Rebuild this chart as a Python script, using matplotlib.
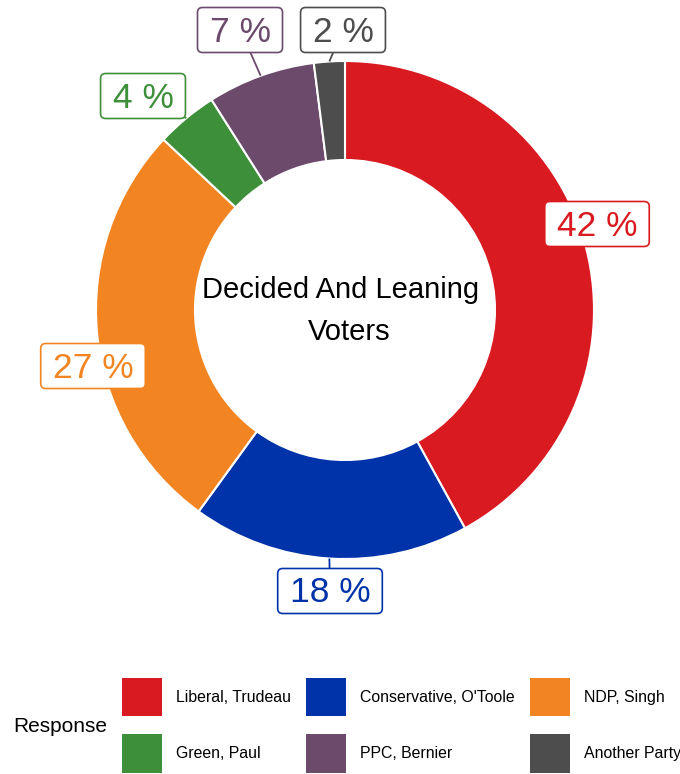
import matplotlib
matplotlib.use('Agg')
import matplotlib.pyplot as plt
from matplotlib.patches import FancyBboxPatch, Patch
import numpy as np

plt.rcParams['font.family'] = ['Liberation Sans', 'DejaVu Sans']

categories = ["Liberal, Trudeau", "Conservative, O'Toole", "NDP, Singh",
              "Green, Paul", "PPC, Bernier", "Another Party"]
values = [42, 18, 27, 4, 7, 2]
colors = ["#D91A21", "#0033AA", "#F28522", "#3D8F3A", "#6B4A6B", "#4D4D4D"]
center_lines = ["Decided And Leaning", "Voters"]
legend_title = "Response"

# layout (pixel coords, origin top-left)
W, H = 680, 774
label_pos = [(597, 223), (330, 590), (93, 365), (143, 95), (240, 29), (343, 29)]
show_line = [False, True, False, True, True, True]
center_line_pos = [(341, 298), (349, 340)]

fig = plt.figure(figsize=(6.8, 7.74), dpi=100)
ax = fig.add_axes([0, 0, 1, 1])

cx, cy = 345, H - 310
R, ring = 249, 99
wedges, _ = ax.pie(values, colors=colors, startangle=90, counterclock=False,
                   radius=R, center=(cx, cy),
                   wedgeprops=dict(width=ring, edgecolor='white', linewidth=1.5))
ax.set_xlim(0, W)
ax.set_ylim(0, H)
ax.set_aspect('equal')
ax.axis('off')

for s, (tx, ty) in zip(center_lines, center_line_pos):
    ax.text(tx, H - ty, s, ha='center', va='baseline', fontsize=21,
            color='black', zorder=6)

texts = []
for w, v, c, (lx, ly), sl in zip(wedges, values, colors, label_pos, show_line):
    th = np.deg2rad((w.theta1 + w.theta2) / 2)
    px, py = cx + R * np.cos(th), cy + R * np.sin(th)
    if sl:
        ax.plot([px, lx], [py, H - ly], color=c, lw=1.3, zorder=3,
                solid_capstyle='butt')
    t = ax.text(lx, H - ly - 12.5, f"{v} %", ha='center', va='baseline',
                fontsize=25.5, color=c, zorder=5)
    texts.append((t, c, ly))

fig.canvas.draw()
r = fig.canvas.get_renderer()
for t, c, ly in texts:
    ext = t.get_window_extent(r)
    bx = ext.x0 - 12
    bw = ext.width + 24
    bh = 45
    by = H - ly - 1 - bh / 2
    box = FancyBboxPatch((bx, by), bw, bh,
                         boxstyle="round,pad=0,rounding_size=5",
                         facecolor='white', edgecolor=c, lw=1.2, zorder=4)
    ax.add_patch(box)

order = [0, 3, 1, 4, 2, 5]
handles = [Patch(facecolor=colors[i], edgecolor='none') for i in order]
labels = [categories[i] for i in order]
ax.legend(handles, labels, ncol=3, loc='upper left',
          bbox_to_anchor=(122, H - 678), bbox_transform=ax.transData,
          frameon=False, fontsize=11.4, handlelength=2.53, handleheight=3.35,
          handletextpad=0.89, labelspacing=1.14, columnspacing=0.95,
          borderpad=0, borderaxespad=0)
ax.text(13, H - 727, legend_title, fontsize=15, va='center', ha='left')

fig.savefig('out.png', dpi=100)
